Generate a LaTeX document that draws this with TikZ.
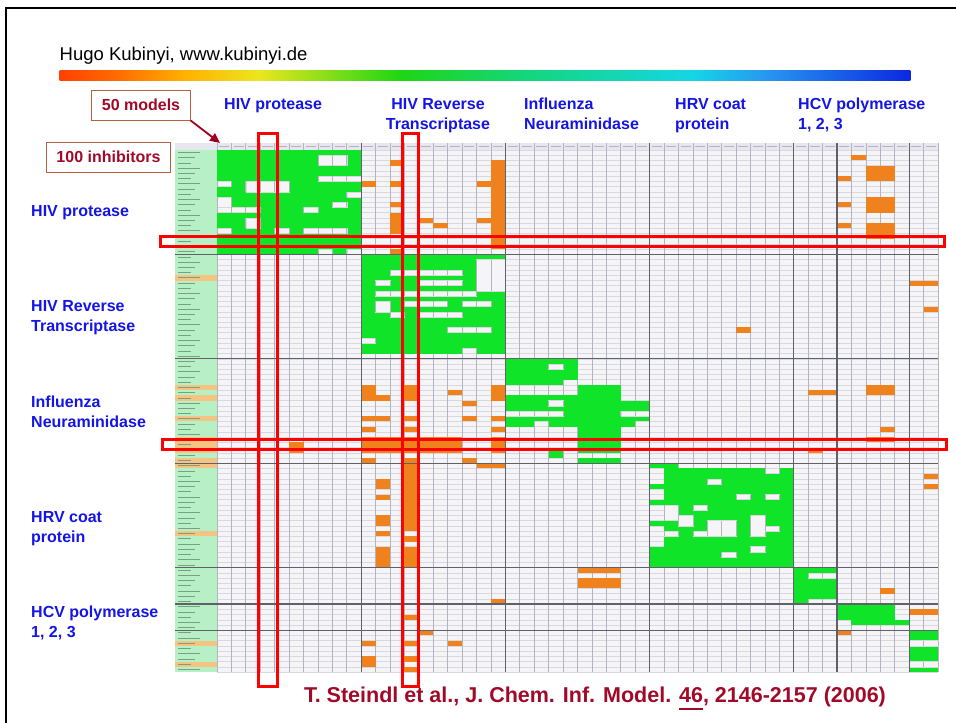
\documentclass[tikz,border=0pt]{standalone}
\usepackage{fontspec}
\setmainfont{Liberation Sans}
\usetikzlibrary{arrows.meta}

\definecolor{hitgreen}{RGB}{16,228,40}
\definecolor{crossorange}{RGB}{240,130,30}
\definecolor{labelgreen}{RGB}{182,240,196}
\definecolor{labelorange}{RGB}{245,196,130}
\definecolor{labelink}{RGB}{120,160,132}
\definecolor{gridbg}{RGB}{245,245,248}
\definecolor{headgray}{RGB}{232,230,238}
\definecolor{rowgray}{RGB}{216,216,224}
\definecolor{colgray}{RGB}{180,180,192}
\definecolor{sepgray}{RGB}{96,96,106}
\definecolor{grpblue}{RGB}{20,20,230}
\definecolor{citered}{RGB}{160,10,40}
\definecolor{boxedge}{RGB}{184,96,64}
\definecolor{arrowred}{RGB}{160,0,32}
\definecolor{rb1}{RGB}{255,64,0}
\definecolor{rb2}{RGB}{255,112,0}
\definecolor{rb3}{RGB}{255,176,0}
\definecolor{rb4}{RGB}{236,230,30}
\definecolor{rb5}{RGB}{30,214,20}
\definecolor{rb6}{RGB}{20,214,120}
\definecolor{rb7}{RGB}{20,214,230}
\definecolor{rb8}{RGB}{40,150,240}
\definecolor{rb9}{RGB}{10,40,225}

\newcommand{\volnum}[1]{\setbox0\hbox{#1}\rlap{\rule[-8pt]{\wd0}{2.2pt}}\box0}

\begin{document}
\begin{tikzpicture}[x=1pt,y=-1pt,
  grp/.style={font=\fontsize{16}{20}\selectfont\bfseries,text=grpblue,align=left,inner sep=0pt,anchor=north west},
  tag/.style={draw=boxedge,line width=1pt,fill=white,font=\fontsize{16}{19}\selectfont\bfseries,text=citered,minimum height=30pt,inner xsep=10pt},
  pointer/.style={-{Triangle[length=10pt,width=9pt]},draw=arrowred,fill=arrowred,line width=1.8pt},
  hilite/.style={draw=red,line width=3pt},
  hit/.style={fill=hitgreen},
  cross/.style={fill=crossorange},
  rowline/.style={draw=rowgray,line width=0.5pt},
  colline/.style={draw=colgray,line width=0.7pt},
  sep/.style={draw=sepgray,line width=1.3pt},
  cite/.style={font=\fontsize{21.5}{24}\selectfont\bfseries,text=citered,inner sep=0pt},
]
\useasboundingbox (0,0) rectangle (956,723);
\draw[line width=2.6pt] (6,723) -- (6,8) -- (956,8);

% header and colour bar
\node[font=\fontsize{18.5}{22}\selectfont,anchor=base west,inner sep=0pt] (author) at (59.5,60.5) {Hugo Kubinyi, www.kubinyi.de};
\foreach \xa/\xb/\ca/\cb in {60/122/rb1/rb2,122/184/rb2/rb3,184/258/rb3/rb4,258/400/rb4/rb5,
    400/520/rb5/rb6,520/693/rb6/rb7,693/767/rb7/rb8,767/910/rb8/rb9}
  \shade[left color=\ca,right color=\cb] (\xa-0.4,70) rectangle (\xb+0.4,80);

% target classes
\node[grp] (colpr) at (224,98) {HIV protease};
\node[grp,align=center,anchor=north] (colrt) at (438,98) {HIV Reverse\\Transcriptase};
\node[grp] (colna) at (524,98) {Influenza\\Neuraminidase};
\node[grp] (colhrv) at (675,98) {HRV coat\\protein};
\node[grp] (colhcv) at (798,98) {HCV polymerase\\1, 2, 3};
\node[grp] (rowpr) at (31,205) {HIV protease};
\node[grp] (rowrt) at (31,300) {HIV Reverse\\Transcriptase};
\node[grp] (rowna) at (31,396) {Influenza\\Neuraminidase};
\node[grp] (rowhrv) at (31,511) {HRV coat\\protein};
\node[grp] (rowhcv) at (31,606) {HCV polymerase\\1, 2, 3};

% hit matrix: 50 models x 100 inhibitors
\begin{scope}[shift={(217,150)},x=14.42pt,y=-5.22pt]
  \fill[gridbg] (-2.91,-1.34) rectangle (50,100);
  \fill[headgray] (-2.91,-1.34) rectangle (50,0);
  \fill[labelgreen] (-2.91,0) rectangle (0,100);
  \foreach \r in {24,45,47,51,55,56,57,59,60,73,94,98}
    \fill[labelorange] (-2.91,\r) rectangle ++(2.91,1);
  \foreach \r in {0,...,100} \draw[rowline] (0,\r) -- (50,\r);
  \foreach \c in {0,...,50} \draw[colline] (\c,-1.34) -- (\c,100);
  \foreach \c in {0,...,49} \draw[colgray,line width=1pt] (\c+0.15,-0.67) -- (\c+0.85,-0.67);
  \foreach \r in {0,...,99}
    \draw[labelink,line width=0.9pt] (-2.7,\r+0.5) -- ({-1.2-0.3*mod(\r,3)},\r+0.5);
  % active (green)
  \foreach \c/\r/\n/\m in {0/0/10/20, 10/20/10/19,
      20/40/5/4, 20/44/4/1, 20/47/5/6, 25/45/3/13, 28/48/2/4, 28/52/1/1, 23/57/1/2, 25/59/3/1,
      30/60/2/1, 31/61/9/19, 30/64/1/1, 30/67/1/1, 30/71/1/1, 30/76/1/4,
      40/80/3/6, 40/86/1/1, 43/87/4/3, 44/90/4/1, 48/92/2/8}
    \fill[hit] (\c,\r) rectangle ++(\n,\m);
  % inactive gaps inside the blocks
  \foreach \c/\r/\n/\m in {7/1/2/2, 7/5/3/1, 2/6/3/2, 0/6/1/1, 9/8/1/1, 0/9/1/2, 0/11/3/1, 6/11/1/1,
      8/10/1/1, 2/13/1/2, 0/15/1/1, 4/15/1/1, 6/15/3/1, 7/19/1/1, 9/19/1/1,
      18/21/2/6, 12/23/5/1, 11/25/1/1, 14/25/3/1, 11/27/7/1, 11/29/1/2, 13/29/3/1, 17/29/2/1,
      12/31/1/1, 14/31/3/1, 16/34/3/1, 10/36/1/1, 17/38/1/1,
      23/41/1/1, 23/48/1/1, 20/50/4/1, 28/50/2/1, 22/52/1/1,
      34/63/1/1, 38/61/1/1, 33/68/1/1, 36/66/1/1, 38/66/1/1, 31/68/1/3, 32/70/1/2, 34/71/2/3,
      37/70/1/4, 31/73/1/1, 33/73/1/1, 38/72/1/1, 37/76/1/1, 35/77/1/1,
      41/81/2/1, 48/94/2/1, 48/98/2/1}{
    \fill[gridbg] (\c,\r) rectangle ++(\n,\m);
    \draw[rowline] (\c,\r) rectangle ++(\n,\m);
    \foreach \k in {0,...,\n} \draw[colline] (\c+\k,\r) -- ++(0,\m);
  }
  % cross activity (orange)
  \foreach \c/\r/\n/\m in {12/2/1/1, 10/6/1/1, 12/6/1/1, 12/10/1/1, 12/12/1/4, 14/13/1/1, 15/14/1/1,
      19/2/1/4, 18/6/2/1, 19/7/1/6, 18/13/1/1, 19/13/1/6, 12/19/1/1,
      44/1/1/1, 45/3/2/3, 43/5/1/1, 43/10/1/1, 45/9/2/3, 43/14/1/1, 45/14/2/3,
      48/25/2/1, 49/30/1/1, 36/34/1/1,
      10/45/1/3, 11/47/1/1, 13/45/1/3, 16/46/1/1, 17/48/1/1, 19/45/1/3, 10/51/2/1, 13/51/1/1,
      17/51/1/1, 19/51/1/1, 10/53/1/1, 13/53/1/1, 19/53/1/1, 10/55/7/3, 5/56/1/2, 19/55/1/3,
      10/59/1/1, 13/59/1/1, 17/59/1/1, 18/60/2/1,
      41/46/2/1, 45/45/2/2, 46/53/1/1, 45/55/2/1, 41/57/1/1,
      13/60/1/13, 13/74/1/1, 13/76/1/4, 11/63/1/2, 11/66/1/1, 11/70/1/2, 11/73/1/1, 11/76/1/4,
      49/62/1/1, 49/64/1/1,
      25/80/3/1, 25/82/3/2, 46/84/1/1, 19/86/1/1, 48/88/2/1, 13/89/1/1, 14/92/1/1, 43/92/1/1,
      10/94/1/1, 13/94/1/1, 16/94/1/1, 10/97/1/2, 13/97/1/1, 13/99/1/1}
    \fill[cross] (\c,\r) rectangle ++(\n,\m);
  % target class borders
  \foreach \c in {10,20,30,40,43,48} \draw[sep] (\c,-1.34) -- (\c,100);
  \foreach \r in {20,40,60,80,87,92} \draw[sep] (-2.91,\r) -- (50,\r);
\end{scope}

% highlighted model columns and inhibitor rows
\draw[hilite] (258,133) rectangle (277,686);
\draw[hilite] (402,133) rectangle (418,686);
\draw[hilite] (160,236) rectangle (944,246);
\draw[hilite] (162,439) rectangle (946,449);

\node[tag] (models) at (141,105) {50 models};
\node[tag] (inhib) at (108.5,157) {100 inhibitors};
\coordinate (gridcorner) at (220,143);
\draw[pointer] (models.south east) -- (gridcorner);

\node[cite,anchor=base] (source) at (595,702)
  {T. Steindl et al., J. Chem. Inf. Model. \volnum{46}, 2146-2157 (2006)};
\end{tikzpicture}
\end{document}
